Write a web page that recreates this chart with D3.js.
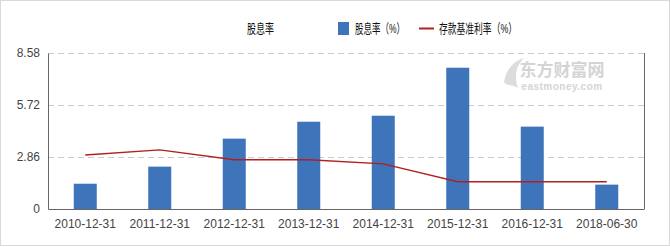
<!DOCTYPE html>
<html>
<head>
<meta charset="utf-8">
<script src="https://cdn.jsdelivr.net/npm/d3@7"></script>
<style>
  body { margin: 0; background: #fff; }
  .chart { width: 670px; height: 247px; }
  text { font-family: Arial, "Liberation Sans", "Noto Sans CJK SC", sans-serif; }
</style>
</head>
<body>
<div class="chart"></div>
<script>
var svgWidth = 670;
var svgHeight = 247;

var margin = { top: 53, right: 26, bottom: 38, left: 48 };
var width = svgWidth - margin.left - margin.right;
var height = svgHeight - margin.top - margin.bottom;

// data
var categories = ["2010-12-31", "2011-12-31", "2012-12-31", "2013-12-31",
                  "2014-12-31", "2015-12-31", "2016-12-31", "2018-06-30"];
var dividendYield = [1.39, 2.33, 3.87, 4.80, 5.13, 7.77, 4.53, 1.34];
var depositRate = [2.97, 3.25, 2.71, 2.71, 2.48, 1.50, 1.50, 1.50];
var yTicks = [0, 2.86, 5.72, 8.58];

var svg = d3.select(".chart")
  .append("svg")
  .attr("width", svgWidth)
  .attr("height", svgHeight);

// outer frame
svg.append("rect")
  .attr("x", 0.5).attr("y", 0.5)
  .attr("width", svgWidth - 1).attr("height", svgHeight - 2)
  .attr("fill", "none")
  .attr("stroke", "#d9d9d9");

var chartGroup = svg.append("g")
  .attr("transform", `translate(${margin.left}, ${margin.top})`);

var xScale = d3.scaleBand()
  .domain(categories)
  .range([0, width]);

var yScale = d3.scaleLinear()
  .domain([0, 8.58])
  .range([height, 0]);

// gridlines
chartGroup.selectAll(".grid")
  .data(yTicks.slice(1))
  .enter()
  .append("line")
  .attr("x1", 0)
  .attr("x2", width)
  .attr("y1", d => Math.round(yScale(d)) + 0.5)
  .attr("y2", d => Math.round(yScale(d)) + 0.5)
  .attr("stroke", "#cccccc")
  .attr("stroke-dasharray", "6,4");

// watermark
var wm = chartGroup.append("g")
  .attr("transform", `translate(${width - 92}, 23)`)
  .attr("fill", "#d4d4d4");
wm.append("text")
  .attr("x", 10).attr("y", 0)
  .attr("text-anchor", "middle")
  .attr("font-size", "17px")
  .attr("font-weight", "bold")
  .attr("font-family", "'Noto Sans CJK SC', sans-serif")
  .text("东方财富网");
wm.append("text")
  .attr("x", 10).attr("y", 14)
  .attr("text-anchor", "middle")
  .attr("font-size", "10px")
  .attr("font-weight", "bold")
  .attr("letter-spacing", "0.5px")
  .text("eastmoney.com");
wm.append("path")
  .attr("d", "M-48,6 C-46,-8 -36,-16 -28,-18 C-36,-10 -38,0 -34,12 C-40,8 -46,10 -48,6 Z")
  .attr("fill", "#dcdcdc");

// bars
var bw = 23;
chartGroup.selectAll(".bar")
  .data(dividendYield)
  .enter()
  .append("rect")
  .attr("x", (d, i) => xScale(categories[i]) + xScale.bandwidth() / 2 - bw / 2)
  .attr("y", d => yScale(d))
  .attr("width", bw)
  .attr("height", d => height - yScale(d))
  .attr("fill", "#3d74ba");

// line
var line = d3.line()
  .x((d, i) => xScale(categories[i]) + xScale.bandwidth() / 2)
  .y(d => yScale(d));

chartGroup.append("path")
  .datum(depositRate)
  .attr("d", line)
  .attr("fill", "none")
  .attr("stroke", "#b0201f")
  .attr("stroke-width", 1.3);

// axes
var leftAxis = d3.axisLeft(yScale)
  .tickValues(yTicks)
  .tickSize(0)
  .tickPadding(8)
  .tickFormat(d => d === 0 ? "0" : d3.format(".2f")(d));

var yAxis = chartGroup.append("g").call(leftAxis);
yAxis.select(".domain").attr("stroke", "#666");
yAxis.selectAll("text")
  .attr("font-size", "12px")
  .attr("fill", "#444");

var bottomAxis = d3.axisBottom(xScale)
  .tickSize(0)
  .tickPadding(10);

var xAxis = chartGroup.append("g")
  .attr("transform", `translate(0, ${height})`)
  .call(bottomAxis);
xAxis.select(".domain").attr("stroke", "#666");
xAxis.selectAll("text")
  .attr("font-size", "12px")
  .attr("fill", "#444");

// right border line
chartGroup.append("line")
  .attr("x1", width + 0.5).attr("x2", width + 0.5)
  .attr("y1", 0).attr("y2", height)
  .attr("stroke", "#666");

// title and legend
svg.append("text")
  .attr("x", 247).attr("y", 33)
  .attr("font-size", "13px")
  .attr("fill", "#111")
  .attr("textLength", 27)
  .attr("lengthAdjust", "spacingAndGlyphs")
  .text("股息率");

svg.append("rect")
  .attr("x", 338).attr("y", 22)
  .attr("width", 11).attr("height", 13)
  .attr("fill", "#3d74ba");

svg.append("text")
  .attr("x", 355).attr("y", 33)
  .attr("font-size", "13px")
  .attr("fill", "#111")
  .attr("textLength", 50)
  .attr("lengthAdjust", "spacingAndGlyphs")
  .text("股息率（%）");

svg.append("line")
  .attr("x1", 419).attr("x2", 434)
  .attr("y1", 28.5).attr("y2", 28.5)
  .attr("stroke", "#b0201f")
  .attr("stroke-width", 2);

svg.append("text")
  .attr("x", 439).attr("y", 33)
  .attr("font-size", "13px")
  .attr("fill", "#111")
  .attr("textLength", 78)
  .attr("lengthAdjust", "spacingAndGlyphs")
  .text("存款基准利率（%）");
</script>
</body>
</html>
